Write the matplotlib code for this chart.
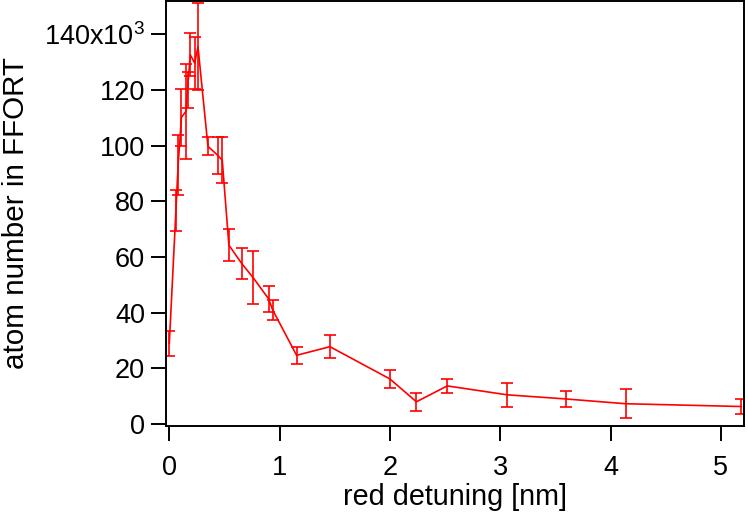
import matplotlib.pyplot as plt

plt.rcParams['font.family'] = ['Liberation Sans', 'DejaVu Sans']
plt.rcParams['mathtext.fontset'] = 'custom'
plt.rcParams['mathtext.rm'] = 'Liberation Sans'
plt.rcParams['mathtext.default'] = 'regular'

# red detuning [nm]
detuning = [0.00, 0.06, 0.08, 0.11, 0.15, 0.165, 0.19, 0.23, 0.26,
            0.35, 0.44, 0.48, 0.54, 0.656, 0.76, 0.90, 0.937,
            1.154, 1.456, 2.00, 2.24, 2.52, 3.063, 3.60, 4.137, 5.185]
# atom number (x10^3)
atoms = [29.0, 76.7, 93.2, 110.2, 112.3, 120.0, 132.7, 129.7, 135.6,
         99.8, 96.5, 94.8, 64.3, 57.7, 52.6, 45.0, 41.0,
         24.7, 27.8, 16.2, 8.0, 13.7, 10.5, 9.0, 7.3, 6.3]
errors = [4.5, 7.5, 10.8, 10.2, 17.0, 6.5, 7.8, 9.3, 15.6,
          3.3, 6.7, 8.2, 5.7, 5.5, 9.4, 4.6, 3.6,
          3.1, 4.2, 3.4, 3.3, 2.6, 4.3, 3.0, 5.3, 2.7]

yticks = [0, 20, 40, 60, 80, 100, 120, 140]
ytick_labels = ['0', '20', '40', '60', '80', '100', '120', '140x10$^{3}$']

fig = plt.figure(figsize=(7.48, 5.12), dpi=100)
ax = fig.add_axes([166 / 748, 1 - 426 / 512, 578 / 748, 425 / 512])

ax.errorbar(detuning, atoms, yerr=errors, color='#ff0000', linewidth=1.2,
            elinewidth=1.2, capsize=4.3, capthick=1.2)

ax.set_xlim(-0.03, 5.21)
ax.set_ylim(-0.7, 152)
ax.set_yticks(yticks)
ax.set_yticklabels(ytick_labels)
ax.set_xticks([0, 1, 2, 3, 4, 5])

for s in ax.spines.values():
    s.set_linewidth(1.4)
ax.tick_params(direction='out', length=10.5, width=1.4, labelsize=19.5,
               top=False, right=False)
ax.tick_params(axis='y', pad=4.5)
ax.tick_params(axis='x', pad=10.5)

ax.set_xlabel('red detuning [nm]', fontsize=20.7, labelpad=1.5)
ax.set_ylabel('atom number in FFORT', fontsize=21.3, labelpad=10)

fig.savefig('out.png', dpi=100)
